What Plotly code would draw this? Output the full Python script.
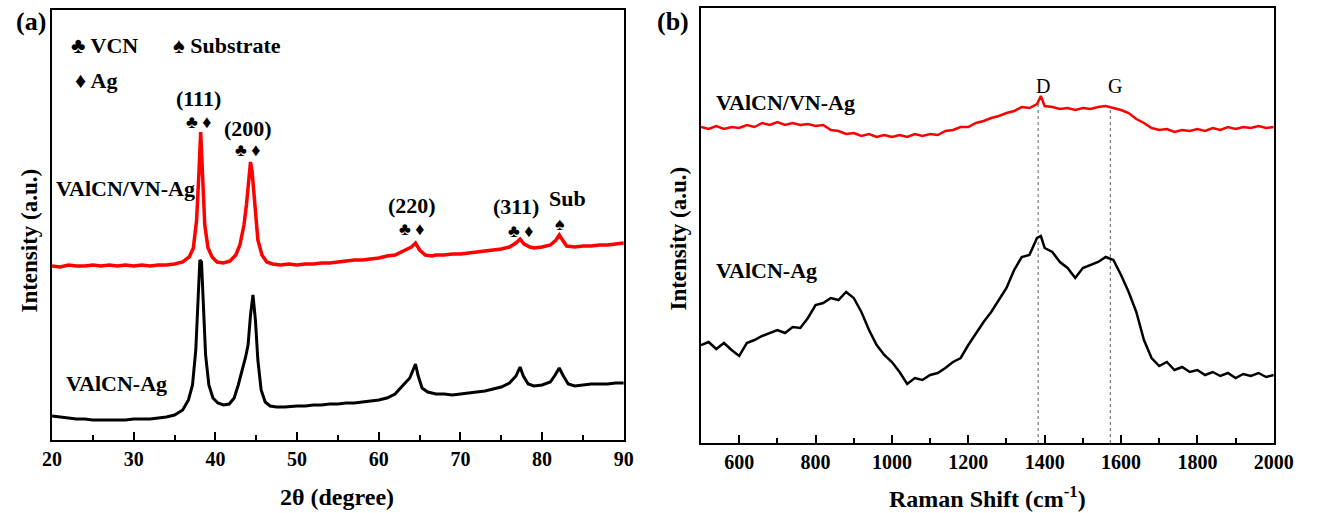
import plotly.graph_objects as go

# ---------------- (a) XRD patterns ----------------
xrd_2theta_top = [20, 21, 22, 23, 24, 25, 26, 27, 28, 29, 30, 31, 32, 33, 34, 35, 36, 36.8, 37.3, 37.7,
                  38.0, 38.2, 38.4, 38.7, 39.1, 39.6, 40.2, 41, 41.8, 42.5, 43.0, 43.5, 43.8, 44.1, 44.3,
                  44.5, 44.8, 45.2, 45.7, 46.3, 47, 48, 49, 50, 51, 52, 53, 54, 55, 56, 57, 58, 59, 60,
                  61, 62, 63, 64, 64.5, 65, 65.7, 66.5, 67, 68, 69, 70, 71, 72, 73, 74, 75, 76, 76.8,
                  77.3, 77.8, 78.5, 79, 80, 81, 81.7, 82.1, 82.5, 83, 84, 85, 86, 87, 88, 89, 90]
xrd_int_top = [174, 173, 175, 174, 174, 175, 174, 175, 174, 175, 174, 175, 174, 175, 175, 176, 178, 183,
               192, 220, 270, 308, 270, 215, 192, 183, 178, 177, 179, 185, 195, 215, 235, 265, 278,
               268, 235, 200, 185, 178, 176, 175, 176, 175, 176, 176, 177, 177, 178, 179, 180, 180,
               181, 182, 184, 185, 189, 193, 197, 190, 185, 184, 185, 185, 186, 186, 187, 188, 189,
               190, 191, 193, 197, 201, 196, 193, 192, 193, 195, 200, 205, 200, 194, 193, 194, 194,
               195, 195, 196, 197]

xrd_2theta_bot = [20, 21, 22, 23, 24, 25, 26, 27, 28, 29, 30, 31, 32, 33, 34, 35, 36, 36.7, 37.2, 37.6,
                  37.9, 38.1, 38.3, 38.5, 38.8, 39.2, 39.7, 40.3, 41, 41.7, 42.3, 42.8, 43.3, 43.7, 44.0,
                  44.3, 44.6, 44.9, 45.2, 45.6, 46.1, 46.7, 47.5, 48.5, 50, 51, 52, 53, 54, 55, 56, 57,
                  58, 59, 60, 61, 62, 63, 63.8, 64.3, 64.5, 64.8, 65.3, 66, 67, 68, 69, 70, 71, 72, 73,
                  74, 75, 76, 76.8, 77.3, 77.7, 78.3, 79, 80, 81, 81.6, 82.1, 82.6, 83.2, 84, 85, 86,
                  87, 88, 89, 90]
xrd_int_bot = [24, 23, 22, 21, 21, 20, 20, 20, 20, 20, 21, 21, 21, 22, 23, 25, 30, 40, 55, 90, 140, 180,
               178, 135, 85, 55, 42, 37, 35, 36, 42, 55, 70, 83, 95, 125, 145, 120, 80, 50, 38, 34, 33,
               33, 34, 34, 35, 35, 36, 36, 37, 37, 38, 39, 40, 42, 46, 55, 62, 72, 76, 65, 52, 48, 46,
               46, 45, 46, 47, 48, 49, 51, 53, 57, 64, 73, 64, 56, 54, 55, 58, 65, 72, 64, 56, 54, 55,
               56, 56, 56, 57, 57]

# ---------------- (b) Raman spectra ----------------
raman_shift = [500, 520, 540, 560, 580, 600, 620, 640, 660, 680, 700, 720, 740, 760, 780, 800, 820, 840,
               860, 880, 900, 920, 940, 960, 980, 1000, 1020, 1040, 1060, 1080, 1100, 1120, 1140, 1160,
               1180, 1200, 1220, 1240, 1260, 1280, 1300, 1320, 1340, 1360, 1380, 1390, 1400, 1420, 1440,
               1460, 1480, 1500, 1520, 1540, 1560, 1580, 1600, 1620, 1640, 1660, 1680, 1700, 1720, 1740,
               1760, 1780, 1800, 1820, 1840, 1860, 1880, 1900, 1920, 1940, 1960, 1980, 2000]
raman_top = [316, 314, 317, 314, 316, 315, 318, 316, 320, 318, 321, 318, 320, 318, 319, 317, 318, 313,
             312, 309, 310, 307, 309, 306, 308, 306, 308, 306, 309, 307, 309, 308, 312, 313, 316, 316,
             320, 322, 325, 327, 330, 332, 336, 335, 339, 347, 337, 336, 334, 335, 333, 335, 334, 336,
             337, 335, 333, 330, 324, 320, 315, 313, 314, 311, 313, 312, 314, 312, 315, 313, 316, 314,
             316, 315, 317, 315, 316]
raman_bot = [98, 101, 94, 100, 93, 87, 100, 103, 107, 110, 113, 110, 116, 115, 125, 138, 140, 145, 143,
             151, 145, 131, 113, 98, 88, 81, 71, 59, 65, 63, 68, 70, 75, 81, 85, 98, 110, 121, 131, 143,
             155, 173, 186, 188, 205, 207, 195, 191, 181, 175, 165, 175, 178, 181, 186, 183, 168, 151,
             131, 103, 85, 77, 81, 73, 76, 71, 73, 68, 71, 67, 70, 65, 69, 67, 70, 66, 68]

band_pos = [1383, 1572]
band_names = ["D", "G"]
band_top = [339, 336]

RED = "#ff0000"
BLACK = "#000000"
SERIF = "Liberation Serif, Times New Roman, serif"

fig = go.Figure()
fig.add_trace(go.Scatter(x=xrd_2theta_top, y=xrd_int_top, mode="lines",
                         line=dict(color=RED, width=3.5), xaxis="x", yaxis="y"))
fig.add_trace(go.Scatter(x=xrd_2theta_bot, y=xrd_int_bot, mode="lines",
                         line=dict(color=BLACK, width=3), xaxis="x", yaxis="y"))

# dotted guides for D and G bands
for xp, yt in zip(band_pos, band_top):
    fig.add_trace(go.Scatter(x=[xp, xp], y=[0, yt], mode="lines",
                             line=dict(color="#777777", width=1.2, dash="dot"),
                             xaxis="x2", yaxis="y2"))
fig.add_trace(go.Scatter(x=raman_shift, y=raman_top, mode="lines",
                         line=dict(color=RED, width=2.5), xaxis="x2", yaxis="y2"))
fig.add_trace(go.Scatter(x=raman_shift, y=raman_bot, mode="lines",
                         line=dict(color=BLACK, width=2.5), xaxis="x2", yaxis="y2"))

tickfont = dict(family=SERIF, size=20, color="black", weight="bold")
axis_common = dict(showline=True, linecolor="black", linewidth=2, mirror=True,
                   showgrid=False, zeroline=False, ticks="inside", tickwidth=2,
                   ticklen=8, tickcolor="black", tickfont=tickfont)

fig.update_layout(
    width=1327, height=513,
    margin=dict(l=0, r=0, t=0, b=0),
    paper_bgcolor="white", plot_bgcolor="white",
    showlegend=False,
    xaxis=dict(domain=[43 / 1327, 628 / 1327], range=[20, 90], dtick=10, anchor="y",
               minor=dict(dtick=5, ticks="inside", ticklen=5, tickwidth=2, tickcolor="black"),
               **axis_common),
    yaxis=dict(domain=[73 / 513, 503 / 513], range=[0, 430], anchor="x",
               showline=True, linecolor="black", linewidth=2, mirror=True,
               showgrid=False, zeroline=False, showticklabels=False, ticks=""),
    xaxis2=dict(domain=[707 / 1327, 1293 / 1327], range=[500, 2000], dtick=200, tick0=0,
                anchor="y2",
                minor=dict(dtick=100, ticks="inside", ticklen=5, tickwidth=2, tickcolor="black"),
                **axis_common),
    yaxis2=dict(domain=[70 / 513, 505 / 513], range=[0, 435], anchor="x2",
                showline=True, linecolor="black", linewidth=2, mirror=True,
                showgrid=False, zeroline=False, showticklabels=False, ticks=""),
)


def label(x, y, text, size=22, bold=True, xanchor="center", angle=0):
    fig.add_annotation(x=x / 1327, y=1 - y / 513, xref="paper", yref="paper", text=text,
                       showarrow=False, xanchor=xanchor, yanchor="middle", textangle=angle,
                       borderpad=0,
                       font=dict(family=SERIF, size=size, color="black",
                                 weight="bold" if bold else "normal"))


# panel tags
label(21, 21, "(a)", size=26)
label(678, 21, "(b)", size=26)

# axis titles
label(19, 241, "Intensity (a.u.)", size=23, angle=-90)
label(684, 239, "Intensity (a.u.)", size=23, angle=-90)
label(335, 497, "2θ (degree)", size=24)
label(1000, 497, "Raman Shift (cm<sup>-1</sup>)", size=24)

# phase key
label(61, 45, "♣ VCN", size=22, xanchor="left")
label(166, 45, "♠ Substrate", size=22, xanchor="left")
label(65, 80, "♦ Ag", size=22, xanchor="left")

# reflection indices
label(193, 98, "(111)", size=22)
label(193, 122, "♣ ♦", size=18)
label(244, 128, "(200)", size=22)
label(244, 150, "♣ ♦", size=18)
label(411, 205, "(220)", size=22)
label(411, 229, "♣ ♦", size=18)
label(518, 207, "(311)", size=22)
label(523, 231, "♣ ♦", size=18)
label(570, 198, "Sub", size=22)
label(563, 224, "♠", size=18)

# sample names
label(46, 188, "VAlCN/VN-Ag", size=22, xanchor="left")
label(56, 383, "VAlCN-Ag", size=22, xanchor="left")
label(721, 102, "VAlCN/VN-Ag", size=22, xanchor="left")
label(721, 270, "VAlCN-Ag", size=22, xanchor="left")

# band letters
for xp, name in zip(band_pos, band_names):
    px = 707 + (xp - 500) / 1500 * 586
    label(px + 5, 86, name, size=20, bold=False)

fig.write_html("out.html")
